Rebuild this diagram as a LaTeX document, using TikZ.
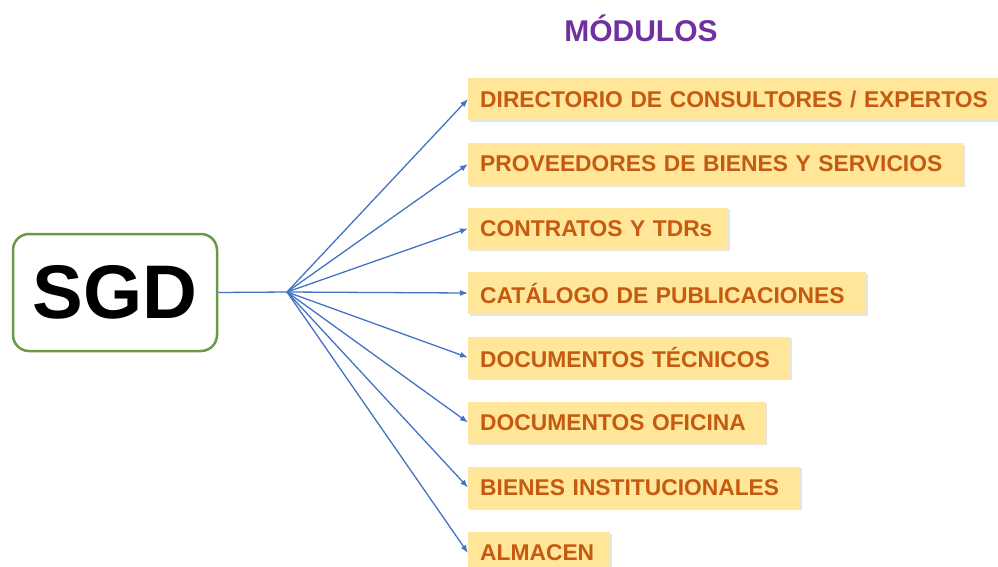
\documentclass[tikz,border=0pt]{standalone}
\usepackage{fontspec}
\setmainfont{Liberation Sans}
\usetikzlibrary{shadows,arrows.meta}
\definecolor{boxfill}{HTML}{FFE699}
\definecolor{boxtext}{HTML}{C55A11}
\definecolor{linkblue}{HTML}{4472C4}
\definecolor{titlepurple}{HTML}{7030A0}
\definecolor{sgdgreen}{HTML}{6A9A45}
\tikzset{
  modbox/.style={anchor=west, fill=boxfill, minimum height=42pt, inner xsep=12pt, inner ysep=0pt,
    align=left, font=\fontsize{22.8}{26}\selectfont\bfseries, text=boxtext,
    drop shadow={shadow xshift=1.5pt, shadow yshift=-1.5pt, fill=black!20}},
  link/.style={draw=linkblue, line width=1.3pt, -{Latex[length=8pt,width=6pt]}},
}
\begin{document}
\begin{tikzpicture}[x=1pt,y=-1pt]
\useasboundingbox (0,0) rectangle (998,566);
\node[draw=sgdgreen, line width=2.5pt, rounded corners=16pt, minimum width=204pt, minimum height=117pt,
  font=\fontsize{76}{80}\selectfont\bfseries] (sgd) at (115,292.5) {SGD};
\node[font=\fontsize{30}{34}\selectfont\bfseries, text=titlepurple] (title) at (641,28) {MÓDULOS};
\coordinate (hub) at (287,292);
\node[modbox, text width=516pt] (m1) at (468,99) {DIRECTORIO DE CONSULTORES / EXPERTOS};
\node[modbox, text width=471pt] (m2) at (468,164) {PROVEEDORES DE BIENES Y SERVICIOS};
\node[modbox, text width=236pt] (m3) at (468,228.5) {CONTRATOS Y TDRs};
\node[modbox, text width=374pt] (m4) at (468,293) {CATÁLOGO DE PUBLICACIONES};
\node[modbox, text width=298pt] (m5) at (468,357.5) {DOCUMENTOS TÉCNICOS};
\node[modbox, text width=273pt] (m6) at (468,422.5) {DOCUMENTOS OFICINA};
\node[modbox, text width=308pt] (m7) at (468,487.5) {BIENES INSTITUCIONALES};
\node[modbox, text width=118pt] (m8) at (468,553) {ALMACEN};
\draw[draw=linkblue, line width=1.3pt] (sgd.east) -- (hub);
\foreach \m in {m1,m2,m3,m4,m5,m6,m7,m8}{\draw[link] (hub) -- (\m.west);}
\end{tikzpicture}
\end{document}
